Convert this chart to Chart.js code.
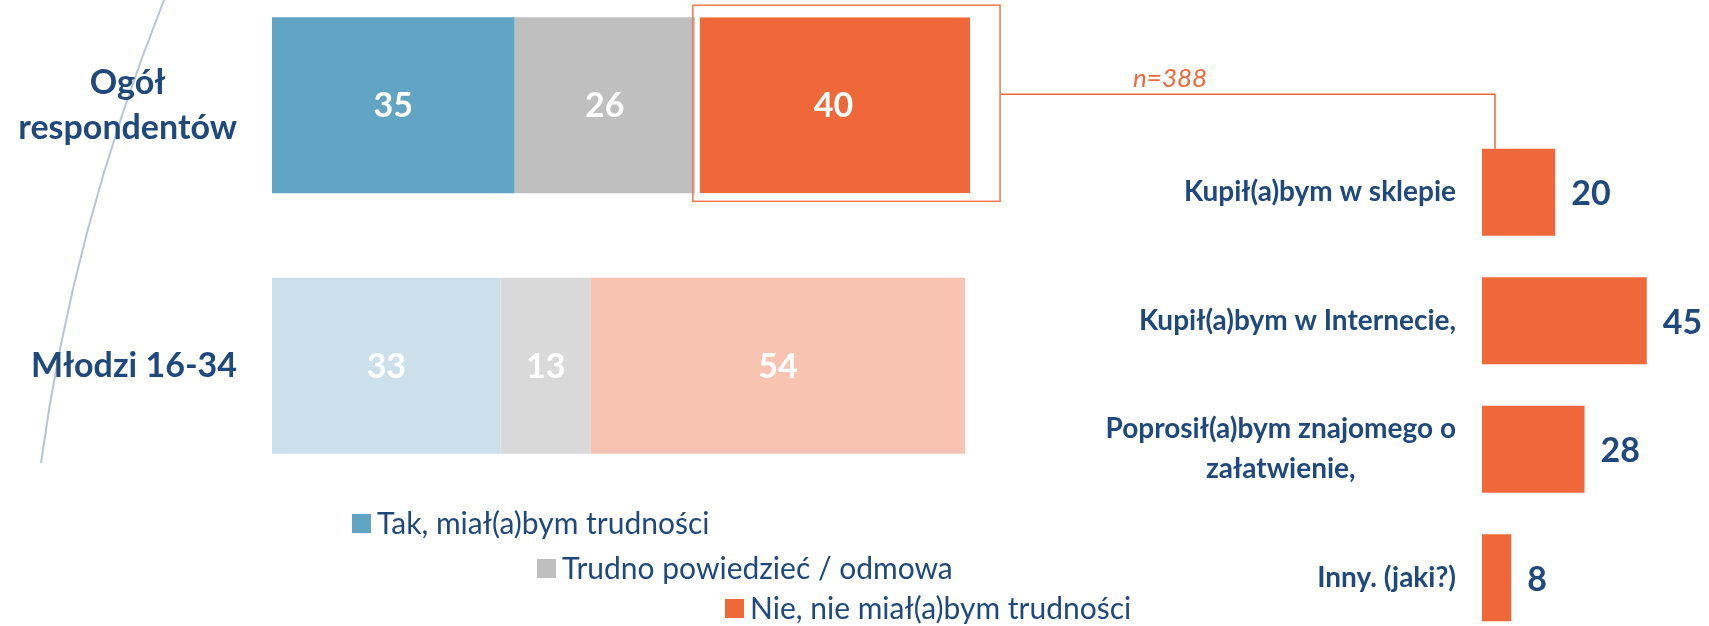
<!DOCTYPE html>
<html>
<head>
<meta charset="utf-8">
<script src="https://cdn.jsdelivr.net/npm/chart.js@4/dist/chart.umd.min.js"></script>
<style>
  html, body { margin: 0; padding: 0; background: #fff; overflow: hidden; width: 1709px; height: 626px; }
  #wrapA { position: absolute; left: 0; top: -25px; width: 1709px; height: 651px; }
  #wrapB { position: absolute; left: 0; top: 0; width: 1709px; height: 642px; }
</style>
</head>
<body>
<div id="wrapA"><canvas id="chartA"></canvas></div>
<div id="wrapB"><canvas id="chartB"></canvas></div>
<script>
// left chart: stacked answers per group
const groups = [['Ogół', 'respondentów'], ['Młodzi 16-34']];
const answers = ['Tak, miał(a)bym trudności', 'Trudno powiedzieć / odmowa', 'Nie, nie miał(a)bym trudności'];
const tak = [35, 33];
const trudno = [26, 13];
const nie = [40, 54];

// right chart: what the "Nie" group would do
const ways = ['Kupił(a)bym w sklepie', 'Kupił(a)bym w Internecie,', ['Poprosił(a)bym znajomego o', 'załatwienie,'], 'Inny. (jaki?)'];
const wayValues = [20, 45, 28, 8];
const sampleNote = 'n=388';

const navy = '#1F497D';
const orange = '#EE6839';
const strong = ['#62A4C3', '#BFBFBF', orange];
const faded = ['#CCE0EB', '#D9D9D9', '#F8C3B1'];
const FONT = 'Lato, "Open Sans", sans-serif';

// chart A canvas is shifted 25px up
const shiftA = 25;

const leftPlugin = {
  id: 'leftDecor',
  afterDraw(chart) {
    const ctx = chart.ctx;
    const yScale = chart.scales.y;
    const area = chart.chartArea;
    ctx.save();

    // arc on the left
    ctx.strokeStyle = '#B8C3D6';
    ctx.lineWidth = 2;
    ctx.beginPath();
    ctx.moveTo(164, 0 + shiftA);
    ctx.quadraticCurveTo(72, 232 + shiftA, 41, 463 + shiftA);
    ctx.stroke();

    // values inside the bars
    ctx.fillStyle = '#fff';
    ctx.font = 'bold 34px ' + FONT;
    ctx.textAlign = 'center';
    ctx.textBaseline = 'middle';
    chart.data.datasets.forEach((ds, di) => {
      chart.getDatasetMeta(di).data.forEach((el, i) => {
        ctx.fillText(String(ds.data[i]), (el.x + el.base) / 2, el.y + 1);
      });
    });

    // group labels
    ctx.fillStyle = navy;
    ctx.font = 'bold 34px ' + FONT;
    const right = area.left - 35;
    groups.forEach((lines, i) => {
      const cy = yScale.getPixelForValue(i);
      const maxW = Math.max(...lines.map(l => ctx.measureText(l).width));
      const lh = 45;
      lines.forEach((l, k) => {
        ctx.fillText(l, right - maxW / 2, cy - (lines.length - 1) * lh / 2 + k * lh);
      });
    });

    // callout box round the "Nie" bar of the whole sample
    const el = chart.getDatasetMeta(2).data[0];
    const h = el.height;
    ctx.strokeStyle = '#EF7A4E';
    ctx.lineWidth = 1.5;
    ctx.strokeRect(el.base - 2, el.y - h / 2 - 12, el.x - el.base + 30, h + 20);

    // staggered legend
    const legendPos = [[352, 523], [537, 568], [725, 608]];
    ctx.font = '30px ' + FONT;
    ctx.textAlign = 'left';
    answers.forEach((txt, i) => {
      const [x, y] = legendPos[i];
      ctx.fillStyle = strong[i];
      ctx.fillRect(x, y + shiftA - 9, 19, 19);
      ctx.fillStyle = navy;
      ctx.fillText(txt, x + 25, y + shiftA + 1);
    });
    ctx.restore();
  }
};

const chartA = new Chart(document.getElementById('chartA'), {
  type: 'bar',
  data: {
    labels: groups,
    datasets: [
      { label: answers[0], data: tak, backgroundColor: [strong[0], faded[0]] },
      { label: answers[1], data: trudno, backgroundColor: [strong[1], faded[1]] },
      {
        label: answers[2], data: nie, backgroundColor: [strong[2], faded[2]],
        borderColor: '#fff', borderSkipped: false,
        borderWidth: c => c.dataIndex === 0 ? { left: 5, top: 0, right: 0, bottom: 0 } : 0
      }
    ]
  },
  options: {
    indexAxis: 'y',
    responsive: true,
    maintainAspectRatio: false,
    animation: false,
    categoryPercentage: 0.676,
    barPercentage: 1,
    layout: { padding: { left: 272, right: 739, top: 0, bottom: 130 } },
    scales: {
      x: { stacked: true, min: 0, max: 100.7, display: false },
      y: { stacked: true, display: false }
    },
    plugins: { legend: { display: false }, tooltip: { enabled: false } }
  },
  plugins: [leftPlugin]
});

const rightPlugin = {
  id: 'rightDecor',
  afterDraw(chart) {
    const ctx = chart.ctx;
    const area = chart.chartArea;
    const yScale = chart.scales.y;
    const meta = chart.getDatasetMeta(0);
    ctx.save();
    ctx.textBaseline = 'middle';

    // category labels
    ctx.fillStyle = navy;
    ctx.font = 'bold 28px ' + FONT;
    ctx.textAlign = 'center';
    const right = area.left - 26;
    ways.forEach((lab, i) => {
      const lines = Array.isArray(lab) ? lab : [lab];
      const cy = yScale.getPixelForValue(i);
      const maxW = Math.max(...lines.map(l => ctx.measureText(l).width));
      const lh = 40;
      lines.forEach((l, k) => {
        ctx.fillText(l, right - maxW / 2, cy - (lines.length - 1) * lh / 2 + k * lh);
      });
    });

    // values after bars
    ctx.font = 'bold 34px ' + FONT;
    ctx.textAlign = 'left';
    meta.data.forEach((el, i) => {
      ctx.fillText(String(wayValues[i]), el.x + 16, el.y + 2);
    });

    // connector from the callout box to the first bar
    const a = chartA.getDatasetMeta(2).data[0];
    const boxRight = a.base - 2 + (a.x - a.base + 30);
    const lineY = a.y - shiftA - 11;
    const first = meta.data[0];
    const endX = first.base + 13;
    ctx.strokeStyle = orange;
    ctx.lineWidth = 1.5;
    ctx.beginPath();
    ctx.moveTo(boxRight, lineY);
    ctx.lineTo(endX, lineY);
    ctx.lineTo(endX, first.y - first.height / 2);
    ctx.stroke();

    ctx.fillStyle = orange;
    ctx.font = 'italic 26px ' + FONT;
    ctx.textAlign = 'center';
    ctx.textBaseline = 'bottom';
    ctx.fillText(sampleNote, boxRight + 170, lineY - 3);
    ctx.restore();
  }
};

new Chart(document.getElementById('chartB'), {
  type: 'bar',
  data: {
    labels: ways,
    datasets: [{ label: 'n=388', data: wayValues, backgroundColor: orange }]
  },
  options: {
    indexAxis: 'y',
    responsive: true,
    maintainAspectRatio: false,
    animation: false,
    categoryPercentage: 0.677,
    barPercentage: 1,
    layout: { padding: { left: 1482, right: 0, top: 128, bottom: 0 } },
    scales: {
      x: { min: 0, max: 62, display: false },
      y: { display: false }
    },
    plugins: { legend: { display: false }, tooltip: { enabled: false } }
  },
  plugins: [rightPlugin]
});
</script>
</body>
</html>
